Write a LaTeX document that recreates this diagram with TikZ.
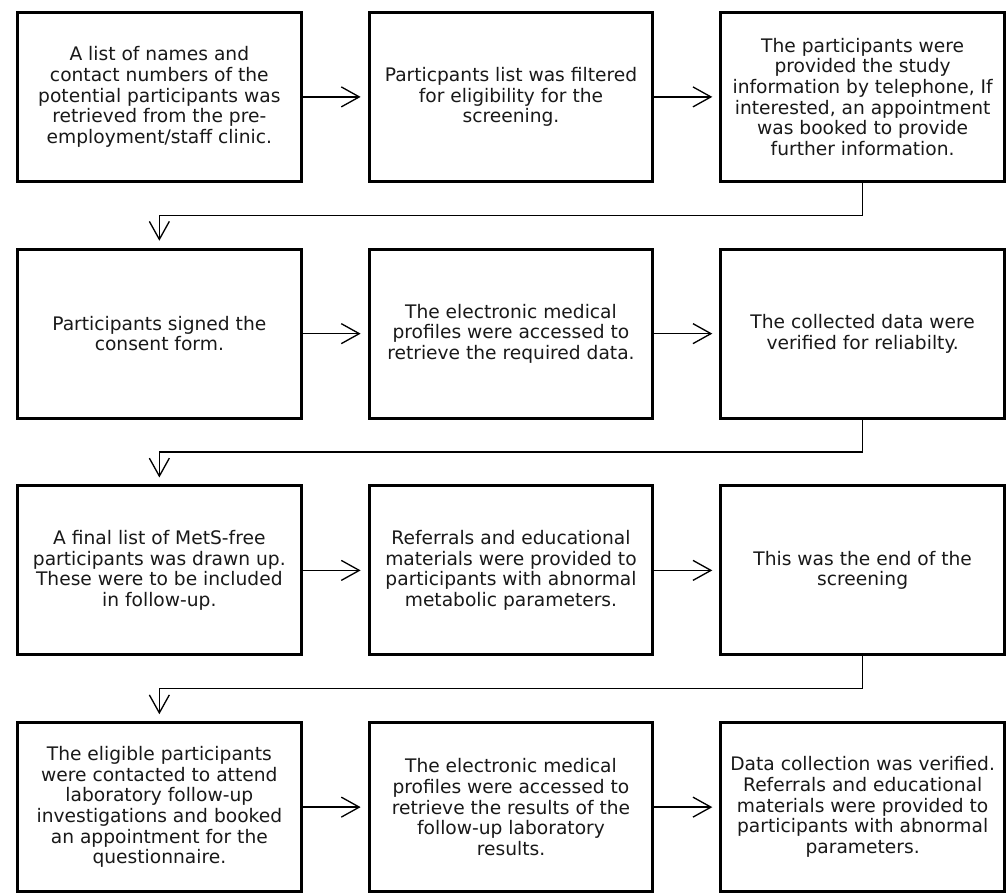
\documentclass[tikz,border=0pt]{standalone}
\usepackage{fontspec}
\setmainfont{DejaVu Sans}
\usetikzlibrary{arrows.meta,positioning}

\begin{document}
\begin{tikzpicture}[
    > = {Straight Barb[length=13.5pt,width=15pt]}, % open arrow head
    shorten > = 5.25pt, % don't touch arrow head to box
    node distance = 48.75pt, % gap between boxes
    line width = 1pt % connector style
    ]

    \tikzset{box/.style={
    draw = black,
    line width = 2.2pt,
    fill = white,
    minimum width = 213pt,
    minimum height = 126.75pt,
    align = center,
    text = black!90,
    font = \fontsize{14}{15.5}\selectfont
    }}

    \node[box] (s1) {A list of names and\\ contact numbers of the\\ potential participants was\\ retrieved from the pre-\\ employment/staff clinic.};
    \node[box] (s2) [right=of s1] {Particpants list was filtered\\ for eligibility for the\\ screening.};
    \node[box] (s3) [right=of s2] {The participants were\\ provided the study\\ information by telephone, If\\ interested, an appointment\\ was booked to provide\\ further information.};
    \node[box] (s4) [below=of s1] {Participants signed the\\ consent form.};
    \node[box] (s5) [right=of s4] {The electronic medical\\ profiles were accessed to\\ retrieve the required data.};
    \node[box] (s6) [right=of s5] {The collected data were\\ verified for reliabilty.};
    \node[box] (s7) [below=of s4] {A final list of MetS-free\\ participants was drawn up.\\ These were to be included\\ in follow-up.};
    \node[box] (s8) [right=of s7] {Referrals and educational\\ materials were provided to\\ participants with abnormal\\ metabolic parameters.};
    \node[box] (s9) [right=of s8] {This was the end of the\\ screening};
    \node[box] (s10) [below=of s7] {The eligible participants\\ were contacted to attend\\ laboratory follow-up\\ investigations and booked\\ an appointment for the\\ questionnaire.};
    \node[box] (s11) [right=of s10] {The electronic medical\\ profiles were accessed to\\ retrieve the results of the\\ follow-up laboratory\\ results.};
    \node[box] (s12) [right=of s11] {Data collection was verified.\\ Referrals and educational\\ materials were provided to\\ participants with abnormal\\ parameters.};

    % rows
    \path[->] (s1) edge (s2);
    \path[->] (s2) edge (s3);
    \path[->] (s4) edge (s5);
    \path[->] (s5) edge (s6);
    \path[->] (s7) edge (s8);
    \path[->] (s8) edge (s9);
    \path[->] (s10) edge (s11);
    \path[->] (s11) edge (s12);

    % row to row
    \draw[->] (s3.south) -- ++(0,-24.4pt) -| (s4.north);
    \draw[->] (s6.south) -- ++(0,-24.4pt) -| (s7.north);
    \draw[->] (s9.south) -- ++(0,-24.4pt) -| (s10.north);

    \useasboundingbox ([xshift=-12pt,yshift=8.25pt]s1.north west) rectangle ++(754.5pt,-667.5pt);
\end{tikzpicture}
\end{document}
